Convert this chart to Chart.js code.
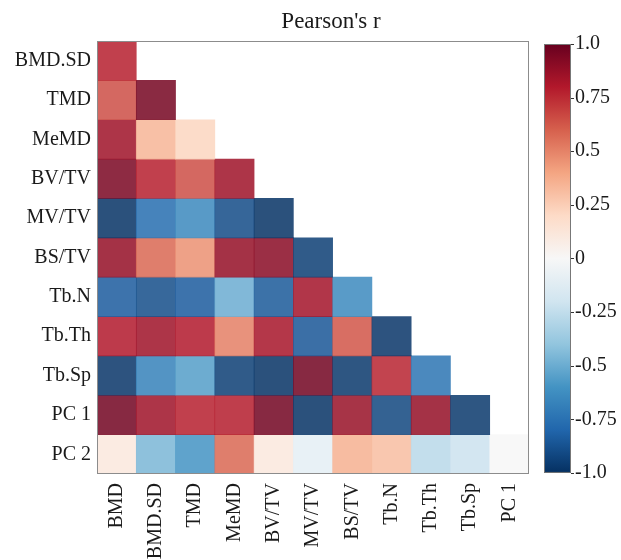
<!DOCTYPE html>
<html>
<head>
<meta charset="utf-8">
<script src="https://cdn.jsdelivr.net/npm/chart.js@4.4.0/dist/chart.umd.min.js"></script>
<style>
  body { margin: 0; background: #fff; }
</style>
</head>
<body>
<canvas id="myChart" width="621" height="560"></canvas>
<script>
// DATA
const chartTitle = "Pearson's r";
const colLabels = ['BMD', 'BMD.SD', 'TMD', 'MeMD', 'BV/TV', 'MV/TV', 'BS/TV', 'Tb.N', 'Tb.Th', 'Tb.Sp', 'PC 1'];
const rowLabels = ['BMD.SD', 'TMD', 'MeMD', 'BV/TV', 'MV/TV', 'BS/TV', 'Tb.N', 'Tb.Th', 'Tb.Sp', 'PC 1', 'PC 2'];

const rowBMDSD = [0.78];
const rowTMD   = [0.65, 0.96];
const rowMeMD  = [0.85, 0.34, 0.22];
const rowBVTV  = [0.95, 0.78, 0.65, 0.85];
const rowMVTV  = [-0.99, -0.77, -0.65, -0.9, -0.99];
const rowBSTV  = [0.88, 0.58, 0.46, 0.88, 0.91, -0.95];
const rowTbN   = [-0.84, -0.89, -0.84, -0.5, -0.85, 0.84, -0.64];
const rowTbTh  = [0.8, 0.85, 0.8, 0.51, 0.83, -0.86, 0.63, -0.98];
const rowTbSp  = [-0.98, -0.68, -0.56, -0.95, -0.99, 0.97, -0.97, 0.77, -0.74];
const rowPC1   = [0.97, 0.85, 0.78, 0.79, 0.97, -0.99, 0.87, -0.92, 0.88, -0.97];
const rowPC2   = [0.11, -0.46, -0.6, 0.58, 0.11, -0.1, 0.36, 0.31, -0.28, -0.22, 0];

const rows = [rowBMDSD, rowTMD, rowMeMD, rowBVTV, rowMVTV, rowBSTV, rowTbN, rowTbTh, rowTbSp, rowPC1, rowPC2];

const cbTicks = [1, 0.75, 0.5, 0.25, 0, -0.25, -0.5, -0.75, -1];
const cbTickLabels = ['1.0', '0.75', '0.5', '0.25', '0', '-0.25', '-0.5', '-0.75', '-1.0'];

// COLOR MAP (RdBu reversed, -1 .. 1)
const rdbu = ['#053061', '#2166ac', '#4393c3', '#92c5de', '#d1e5f0', '#f7f7f7', '#fddbc7', '#f4a582', '#d6604d', '#b2182b', '#67001f'];

function hexRgb(h) {
    return [parseInt(h.slice(1, 3), 16), parseInt(h.slice(3, 5), 16), parseInt(h.slice(5, 7), 16)];
}

function valueColor(v, alpha) {
    let t = (Math.max(-1, Math.min(1, v)) + 1) / 2 * (rdbu.length - 1);
    let i = Math.min(Math.floor(t), rdbu.length - 2);
    let f = t - i;
    let a = hexRgb(rdbu[i]), b = hexRgb(rdbu[i + 1]);
    let c = a.map((x, k) => Math.round(x + (b[k] - x) * f));
    return 'rgba(' + c[0] + ',' + c[1] + ',' + c[2] + ',' + alpha + ')';
}

const serif = "'Liberation Serif', 'DejaVu Serif', serif";
const textColor = '#1a1a1a';

// DATASETS: one floating bar per cell, one dataset per row
const datasets = rows.map(function(vals, r) {
    return {
        label: rowLabels[r],
        data: colLabels.map((_, c) => c < vals.length ? [r - 0.5, r + 0.5] : null),
        backgroundColor: colLabels.map((_, c) => c < vals.length ? valueColor(vals[c], 0.85) : 'rgba(0,0,0,0)'),
        borderWidth: 0,
        borderSkipped: false,
        grouped: false,
        barPercentage: 1,
        categoryPercentage: 1,
        yAxisID: 'y'
    };
});

// FRAME + COLORBAR + TITLE
const decorations = {
    id: 'decorations',
    afterDatasetsDraw(chart) {
        const ctx = chart.ctx;
        const area = chart.chartArea;
        const cb = chart.scales.cb;
        ctx.save();
        ctx.strokeStyle = '#8c8c8c';
        ctx.lineWidth = 1;
        ctx.strokeRect(area.left + 0.5, area.top + 0.5, area.right - area.left - 1, area.bottom - area.top - 1);

        const x0 = area.right + 15;
        const w = 27;
        const yTop = cb.getPixelForValue(1);
        const yBot = cb.getPixelForValue(-1);
        const grad = ctx.createLinearGradient(0, yBot, 0, yTop);
        rdbu.forEach((c, i) => grad.addColorStop(i / (rdbu.length - 1), c));
        ctx.fillStyle = grad;
        ctx.fillRect(x0, yTop, w, yBot - yTop);
        ctx.strokeStyle = '#777';
        ctx.strokeRect(x0 + 0.5, yTop + 0.5, w - 1, yBot - yTop - 1);

        ctx.strokeStyle = '#333';
        cbTicks.forEach(function(v) {
            const y = Math.round(cb.getPixelForValue(v)) + 0.5;
            ctx.beginPath();
            ctx.moveTo(x0 + w, y);
            ctx.lineTo(x0 + w + 3, y);
            ctx.stroke();
        });

        // title centred over heatmap + colorbar
        ctx.fillStyle = textColor;
        ctx.font = '23px ' + serif;
        ctx.textAlign = 'center';
        ctx.textBaseline = 'alphabetic';
        ctx.fillText(chartTitle, (area.left + x0 + w) / 2 - 3, 28);
        ctx.restore();
    }
};

const ctx = document.getElementById('myChart').getContext('2d');
new Chart(ctx, {
    type: 'bar',
    data: {
        labels: colLabels,
        datasets: datasets
    },
    options: {
        responsive: false,
        animation: false,
        layout: { padding: { top: 41, left: 0, right: 0, bottom: 0 } },
        plugins: {
            legend: { display: false },
            tooltip: { enabled: false },
            title: { display: false }
        },
        scales: {
            x: {
                type: 'category',
                grid: { display: false, drawTicks: false },
                border: { display: false },
                ticks: {
                    minRotation: 90,
                    maxRotation: 90,
                    autoSkip: false,
                    padding: 9,
                    color: textColor,
                    font: { family: serif, size: 20 }
                },
                afterFit: function(scale) { scale.height = 86; }
            },
            y: {
                type: 'linear',
                min: -0.5,
                max: 10.5,
                reverse: true,
                grid: { display: false, drawTicks: false },
                border: { display: false },
                afterBuildTicks: function(scale) {
                    scale.ticks = rowLabels.map((_, i) => ({ value: i }));
                },
                ticks: {
                    autoSkip: false,
                    padding: 6,
                    color: textColor,
                    font: { family: serif, size: 20 },
                    callback: function(v) { return rowLabels[v]; }
                },
                afterFit: function(scale) {
                    scale.width = 97;
                    scale.paddingTop = 0;
                    scale.paddingBottom = 0;
                }
            },
            cb: {
                type: 'linear',
                position: 'right',
                // colorbar sits a few px inside the heatmap's height
                min: -1.005,
                max: 1.014,
                grid: { display: false, drawTicks: false },
                border: { display: false },
                afterBuildTicks: function(scale) {
                    scale.ticks = cbTicks.map(v => ({ value: v }));
                },
                ticks: {
                    autoSkip: false,
                    padding: 46,
                    color: textColor,
                    font: { family: serif, size: 20 },
                    callback: function(v) { return cbTickLabels[cbTicks.indexOf(v)]; }
                },
                afterFit: function(scale) {
                    scale.width = 92;
                    scale.paddingTop = 0;
                    scale.paddingBottom = 0;
                }
            }
        }
    },
    plugins: [decorations]
});
</script>
</body>
</html>
